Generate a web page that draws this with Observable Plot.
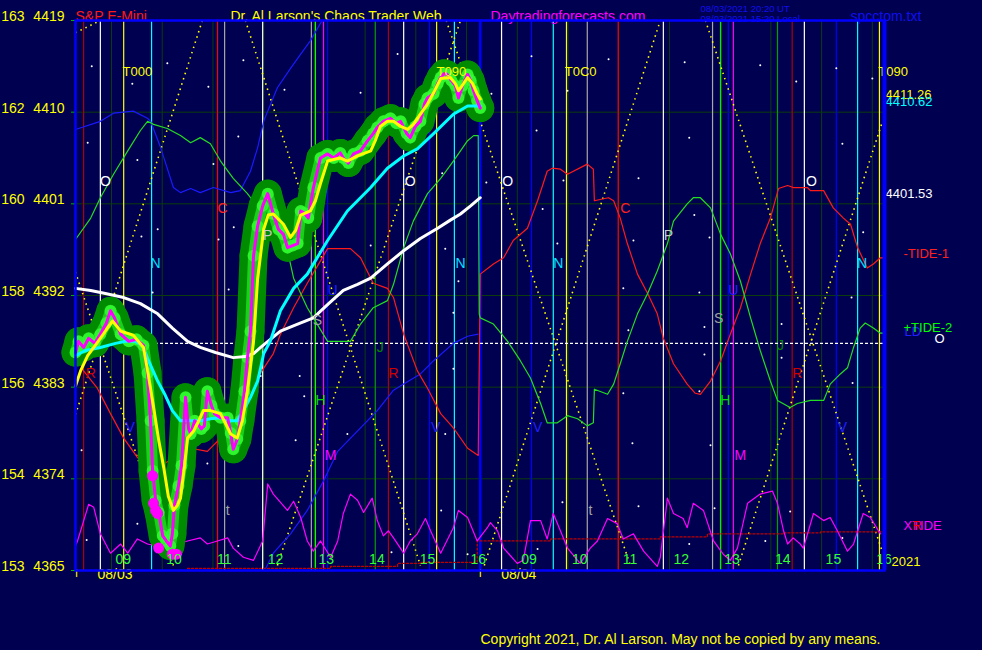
<!DOCTYPE html>
<html><head><meta charset="utf-8">
<script src="https://cdn.jsdelivr.net/npm/d3@7"></script>
<script src="https://cdn.jsdelivr.net/npm/@observablehq/plot@0.6"></script>
<style>
html,body{margin:0;padding:0;background:#000050;}
#chart svg{display:block}
</style></head><body><div id="chart"></div>
<script>
// ---- axes ----
const xDomain = [8.29, 24.24];            // session hours (day 2 09:00 = 17)
const yDomain = [4365, 4419];
const hourTicks = [9,10,11,12,13,14,15,16,17,18,19,20,21,22,23,24];
const hourLabels = ["09","10","11","12","13","14","15","16","09","10","11","12","13","14","15","16"];
const priceTicks = [4419,4410,4401,4392,4383,4374,4365];
const priceIndex = [163,162,160,158,156,154,153];
const dateTicks = [8.31, 16.27];
const dateLabels = ["08/03","08/04"];

// ---- price series ----
const price = [[8.29,4386.4],[8.35,4387.5],[8.45,4386.9],[8.55,4387.8],[8.67,4387.3],[8.78,4388.2],[8.90,4389.3],[8.98,4390.5],[9.06,4389.8],[9.18,4388.2],[9.34,4387.5],[9.49,4387.7],[9.63,4387.1],[9.71,4384.4],[9.77,4379.7],[9.81,4374.8],[9.87,4371.9],[9.93,4370.7],[10.01,4368.4],[10.08,4367.9],[10.16,4367.4],[10.20,4368.6],[10.24,4371.4],[10.32,4373.3],[10.38,4375.3],[10.46,4382.0],[10.52,4378.9],[10.56,4378.4],[10.64,4379.7],[10.70,4379.4],[10.77,4378.9],[10.83,4379.2],[10.89,4382.6],[10.97,4381.2],[11.03,4380.4],[11.15,4380.0],[11.29,4380.0],[11.35,4378.5],[11.40,4376.9],[11.48,4377.9],[11.54,4379.7],[11.62,4382.6],[11.68,4385.9],[11.74,4388.5],[11.80,4395.9],[11.88,4398.8],[11.98,4400.8],[12.08,4402.0],[12.19,4400.0],[12.29,4398.5],[12.39,4398.0],[12.47,4396.7],[12.57,4396.9],[12.67,4397.1],[12.73,4400.3],[12.80,4400.1],[12.88,4399.6],[12.98,4402.6],[13.12,4405.5],[13.26,4405.9],[13.38,4405.5],[13.51,4406.0],[13.57,4405.5],[13.67,4405.0],[13.77,4405.9],[13.91,4406.2],[14.05,4407.2],[14.16,4407.9],[14.24,4408.5],[14.36,4409.1],[14.50,4409.4],[14.62,4408.9],[14.70,4409.1],[14.82,4407.9],[14.89,4407.5],[14.99,4408.6],[15.09,4409.1],[15.17,4410.8],[15.23,4411.4],[15.35,4411.8],[15.43,4412.8],[15.49,4413.4],[15.56,4413.8],[15.62,4413.7],[15.70,4413.1],[15.78,4412.6],[15.84,4411.4],[15.92,4412.6],[16.02,4413.7],[16.08,4413.1],[16.14,4412.1],[16.21,4411.1],[16.27,4410.4]];
const smooth = [[8.29,4383.1],[8.39,4384.6],[8.53,4386.1],[8.68,4387.1],[8.84,4388.2],[9.02,4389.5],[9.18,4388.5],[9.43,4388.1],[9.63,4386.9],[9.73,4384.1],[9.83,4381.0],[9.93,4377.8],[10.03,4375.1],[10.12,4372.3],[10.22,4370.9],[10.30,4371.4],[10.36,4372.1],[10.44,4375.3],[10.50,4378.0],[10.62,4378.7],[10.72,4379.7],[10.81,4380.7],[10.95,4380.7],[11.15,4380.4],[11.35,4378.4],[11.48,4378.0],[11.58,4379.7],[11.68,4382.6],[11.80,4387.5],[11.88,4393.6],[12.00,4398.5],[12.09,4399.9],[12.19,4400.0],[12.39,4399.0],[12.53,4397.7],[12.63,4398.4],[12.73,4399.9],[12.92,4400.3],[13.02,4401.3],[13.12,4403.0],[13.26,4405.2],[13.42,4405.4],[13.51,4405.5],[13.65,4405.2],[13.85,4405.7],[14.11,4406.2],[14.20,4407.2],[14.30,4408.6],[14.44,4409.1],[14.56,4409.1],[14.70,4408.6],[14.84,4408.3],[14.95,4408.8],[15.09,4409.8],[15.23,4410.8],[15.35,4411.9],[15.49,4413.3],[15.68,4413.4],[15.78,4412.8],[15.84,4412.1],[15.94,4412.8],[16.02,4413.4],[16.12,4412.8],[16.21,4411.8],[16.27,4411.3]];
const avgFast = [[8.29,4386.1],[8.49,4386.6],[8.78,4386.9],[9.08,4387.3],[9.28,4387.5],[9.47,4387.5],[9.61,4387.1],[9.73,4385.6],[9.91,4383.6],[10.06,4382.2],[10.20,4380.7],[10.36,4379.7],[10.56,4379.7],[10.75,4379.7],[10.95,4379.9],[11.15,4380.0],[11.35,4379.7],[11.48,4379.7],[11.60,4380.7],[11.74,4382.0],[11.88,4383.6],[11.94,4384.9],[12.00,4386.3],[12.13,4387.5],[12.33,4390.5],[12.59,4392.7],[12.86,4394.1],[13.26,4397.4],[13.65,4400.3],[14.11,4402.6],[14.44,4404.5],[14.76,4405.7],[15.03,4406.4],[15.35,4407.9],[15.74,4409.8],[16.02,4410.6],[16.27,4410.6]];
const avgSlow = [[8.29,4392.7],[8.59,4392.5],[8.88,4392.2],[9.24,4391.8],[9.57,4391.2],[9.91,4390.2],[10.20,4388.8],[10.50,4387.5],[10.75,4386.9],[11.05,4386.4],[11.40,4385.9],[11.64,4386.0],[11.80,4386.3],[11.94,4386.9],[12.33,4388.5],[12.67,4389.2],[12.98,4389.8],[13.28,4391.2],[13.57,4392.5],[13.85,4393.1],[14.11,4393.7],[14.44,4395.1],[14.76,4396.4],[15.09,4397.6],[15.43,4398.6],[15.68,4399.4],[15.88,4400.0],[16.08,4400.8],[16.27,4401.6]];
const lowMarks = [[9.81,4374.3],[9.83,4371.6],[9.87,4370.9],[9.91,4370.6],[9.93,4367.2],[10.20,4366.6],[10.28,4366.6]];

// ---- tide / forecast lines ----
const tide1 = [[8.29,4386.6],[8.45,4384.6],[8.72,4382.9],[8.98,4380.4],[9.24,4378.0],[9.51,4376.1],[9.71,4375.0],[9.91,4375.0],[10.30,4376.4],[10.56,4377.0],[10.89,4376.7],[11.15,4378.0],[11.40,4380.0],[11.68,4382.0],[11.94,4384.4],[12.19,4386.3],[12.33,4388.2],[12.59,4390.8],[12.86,4393.2],[13.12,4395.4],[13.26,4396.6],[13.71,4396.6],[13.91,4395.7],[14.16,4393.2],[14.44,4392.7],[14.56,4391.8],[14.76,4388.2],[15.03,4384.6],[15.23,4382.9],[15.49,4380.4],[15.74,4379.0],[16.02,4377.0],[16.23,4376.3],[16.27,4394.1],[16.53,4395.1],[16.73,4395.7],[16.92,4397.4],[17.20,4398.6],[17.40,4401.3],[17.59,4404.2],[17.69,4404.5],[17.85,4404.4],[17.99,4403.9],[18.38,4404.9],[18.50,4404.4],[18.52,4401.3],[18.70,4401.5],[18.80,4401.6],[18.90,4401.3],[19.03,4399.6],[19.17,4397.1],[19.37,4394.1],[19.57,4392.2],[19.76,4390.2],[19.88,4387.8],[20.08,4385.3],[20.35,4383.3],[20.51,4382.4],[20.61,4382.3],[20.81,4383.6],[21.01,4385.6],[21.20,4388.2],[21.40,4390.8],[21.60,4394.1],[21.79,4397.1],[21.99,4399.6],[22.15,4402.5],[22.33,4402.8],[22.44,4402.6],[22.72,4402.6],[22.78,4402.3],[23.04,4402.3],[23.23,4400.6],[23.43,4399.6],[23.57,4399.0],[23.71,4396.7],[23.90,4394.7],[24.02,4395.1],[24.16,4395.7],[24.24,4395.7]];
const tide2 = [[8.29,4397.5],[8.59,4399.6],[8.78,4401.6],[9.04,4403.9],[9.32,4406.2],[9.57,4408.2],[9.71,4409.1],[9.83,4408.8],[10.10,4408.4],[10.36,4407.7],[10.56,4407.0],[10.75,4407.5],[10.95,4406.9],[11.15,4405.2],[11.40,4403.5],[11.68,4402.0],[11.94,4400.3],[12.27,4398.3],[12.47,4396.4],[12.59,4393.7],[12.86,4390.8],[12.98,4389.8],[13.26,4387.5],[13.71,4387.5],[13.91,4389.2],[14.16,4390.8],[14.44,4391.5],[14.56,4393.1],[14.76,4396.7],[14.95,4399.3],[15.23,4402.0],[15.49,4403.5],[15.74,4405.2],[16.02,4407.2],[16.14,4407.7],[16.23,4407.7],[16.25,4390.2],[16.27,4389.8],[16.53,4389.2],[16.81,4387.5],[17.06,4385.6],[17.26,4383.9],[17.46,4381.4],[17.59,4379.5],[17.79,4379.5],[17.99,4380.2],[18.19,4379.9],[18.38,4379.2],[18.50,4379.5],[18.52,4382.8],[18.78,4382.3],[18.90,4383.3],[19.03,4385.3],[19.17,4387.5],[19.37,4390.2],[19.57,4392.2],[19.76,4394.4],[19.96,4397.1],[20.08,4399.3],[20.35,4401.0],[20.47,4401.6],[20.61,4401.6],[20.81,4400.6],[21.01,4398.0],[21.20,4396.1],[21.40,4393.4],[21.60,4389.8],[21.79,4386.6],[21.99,4383.6],[22.13,4381.7],[22.38,4381.0],[22.52,4381.4],[22.78,4381.7],[23.04,4381.7],[23.17,4383.3],[23.37,4384.3],[23.51,4384.9],[23.63,4386.9],[23.76,4388.8],[23.86,4389.3],[24.02,4388.8],[24.16,4388.3],[24.24,4388.3]];
const blueA = [[8.29,4408.3],[8.78,4409.1],[9.04,4409.9],[9.43,4410.1],[9.71,4409.4],[9.77,4409.1],[9.97,4406.5],[10.22,4402.6],[10.36,4402.1],[10.56,4402.5],[10.75,4402.1],[11.01,4402.6],[11.35,4402.1],[11.54,4402.3],[11.74,4404.2],[11.88,4406.5],[12.00,4409.1],[12.08,4410.1],[12.27,4412.4],[12.53,4414.3],[12.73,4415.7],[12.92,4417.0],[13.14,4418.9]];
const blueB = [[12.04,4365.2],[12.19,4366.7],[12.53,4368.6],[12.86,4370.9],[13.18,4373.8],[13.46,4376.7],[13.91,4379.0],[14.24,4380.7],[14.56,4382.7],[14.76,4383.3],[15.09,4384.3],[15.35,4385.6],[15.74,4387.3],[16.02,4388.0],[16.23,4388.2]];
const xtide = [[8.29,4367.4],[8.33,4367.9],[8.55,4371.5],[8.65,4371.2],[8.78,4368.6],[8.98,4366.7],[9.18,4367.6],[9.32,4366.7],[9.51,4368.1],[9.71,4367.6],[9.91,4367.4],[10.10,4367.9],[10.30,4367.6],[10.50,4367.9],[10.75,4368.2],[10.89,4367.6],[11.09,4367.9],[11.29,4368.2],[11.40,4367.2],[11.60,4366.3],[11.80,4366.0],[11.98,4367.9],[12.08,4373.5],[12.19,4372.5],[12.47,4370.9],[12.59,4371.8],[12.73,4370.2],[12.86,4367.9],[12.98,4366.9],[13.12,4367.9],[13.32,4366.3],[13.46,4367.9],[13.57,4370.6],[13.71,4372.5],[13.85,4371.9],[13.97,4370.7],[14.14,4372.1],[14.24,4369.9],[14.36,4368.4],[14.46,4368.9],[14.56,4368.2],[14.76,4366.7],[14.89,4367.9],[15.03,4368.6],[15.19,4370.1],[15.29,4368.9],[15.49,4366.7],[15.74,4369.2],[15.84,4370.9],[16.02,4370.2],[16.21,4367.9],[16.41,4369.2],[16.47,4369.7],[16.61,4368.9],[16.73,4367.2],[17.00,4365.7],[17.12,4366.0],[17.26,4369.9],[17.46,4369.9],[17.59,4368.1],[17.71,4370.6],[17.85,4368.9],[17.99,4367.2],[18.24,4365.7],[18.44,4367.2],[18.58,4367.9],[18.78,4370.1],[18.97,4369.6],[19.09,4368.1],[19.29,4368.6],[19.49,4366.9],[19.76,4365.4],[19.82,4366.3],[19.96,4372.1],[20.08,4370.6],[20.27,4370.1],[20.35,4369.2],[20.47,4371.6],[20.67,4370.9],[20.87,4367.9],[21.06,4366.6],[21.20,4366.0],[21.34,4367.2],[21.54,4371.6],[21.79,4372.5],[22.03,4372.8],[22.13,4371.6],[22.25,4368.9],[22.33,4367.6],[22.44,4368.2],[22.58,4367.6],[22.64,4367.2],[22.84,4370.6],[23.04,4369.9],[23.17,4370.2],[23.31,4368.9],[23.51,4366.9],[23.63,4367.6],[23.82,4370.6],[23.96,4370.2],[24.16,4368.6]];
const baseTide = [[10.50,4365.2],[13.32,4365.4],[14.64,4365.7],[15.09,4365.8],[16.20,4365.8],[16.21,4367.9],[17.66,4368.1],[19.82,4368.3],[20.75,4368.6],[22.25,4368.7],[22.98,4368.8],[24.24,4368.9]];
const zeroLevel = [4387.3];

// ---- event lines (times) ----
const eventLines = [
  {color:"#b00000", times:[8.45,14.46,22.42]},
  {color:"#ffffff", times:[8.78,11.98,14.76,16.69,19.88,22.66]},
  {color:"#ffff00", times:[9.24,15.41,17.97,24.14]},
  {color:"#00ffff", times:[9.79,15.76,17.71,23.71]},
  {color:"#ff0000", times:[11.09,18.99]},
  {color:"#a8a8a8", times:[11.23,12.94,18.38,20.85]},
  {color:"#00ff00", times:[13.02,21.01]},
  {color:"#ff00ff", times:[13.18,21.26]},
  {color:"#0000ff", times:[13.26,15.27,17.28,21.16,23.29]},
  {color:"#00a000", times:[14.20,22.13]}
];
const nowTime = [16.27];

// ---- yellow dotted angle lines [t1,p1,t2,p2] ----
const angleLines = [[8.29,4417.8,8.78,4419.0],[10.79,4419.0,8.29,4380.3],[11.64,4419.0,15.09,4365.5],[12.27,4365.5,15.88,4419.0],[15.60,4419.0,19.23,4365.5],[16.35,4365.5,19.82,4419.0],[20.71,4419.0,24.20,4366.8],[21.36,4365.5,24.20,4409.1],[8.29,4394.3,10.22,4365.5]];

// ---- scattered points ----
const stars = [[8.61,4414.5],[9.41,4412.8],[10.10,4414.8],[10.91,4412.5],[11.60,4415.1],[12.41,4412.2],[14.64,4415.7],[13.91,4411.9],[17.28,4415.5],[18.80,4415.2],[17.99,4412.1],[16.49,4411.8],[20.30,4414.9],[21.79,4414.6],[22.50,4413.0],[23.29,4414.3],[24.00,4413.3],[8.53,4407.0],[9.51,4405.3],[11.50,4407.6],[11.01,4404.9],[11.41,4398.7],[11.11,4397.5],[11.31,4392.6],[9.91,4398.5],[9.59,4397.8],[9.81,4392.3],[15.52,4404.0],[16.39,4403.1],[17.38,4408.2],[17.79,4397.1],[15.58,4396.6],[15.74,4390.3],[15.74,4384.8],[15.84,4393.4],[14.11,4396.9],[12.71,4384.1],[12.80,4382.1],[13.65,4378.4],[15.58,4378.4],[20.39,4407.5],[19.39,4403.5],[19.29,4397.4],[19.09,4392.7],[19.19,4388.6],[19.09,4382.4],[19.27,4377.5],[20.49,4399.9],[20.79,4397.7],[20.59,4392.3],[20.69,4388.9],[20.69,4386.2],[20.59,4382.6],[20.81,4377.3],[22.21,4389.2],[22.21,4385.9],[23.41,4406.9],[23.82,4398.2],[23.61,4383.4],[17.50,4400.5],[17.91,4403.3],[8.51,4368.0],[8.41,4376.8],[9.51,4369.6],[11.50,4367.4],[11.94,4384.1],[12.63,4377.8],[10.89,4375.5],[14.52,4366.8],[15.50,4370.9],[16.02,4366.6],[17.40,4367.1],[17.89,4371.7],[19.39,4371.3],[20.39,4367.6],[20.89,4371.1],[21.89,4367.9],[22.38,4370.8],[23.41,4368.2],[23.59,4391.8]];

// ---- letter marks ----
const letterMarks = [
  {text:"O", color:"#ffffff", pts:[[8.88,4403.2],[14.89,4403.2],[16.81,4403.2],[22.80,4403.2]]},
  {text:"N", color:"#00e0ff", pts:[[9.87,4395.1],[15.88,4395.1],[17.81,4395.1],[23.80,4395.1]]},
  {text:"C", color:"#ff2020", pts:[[11.19,4400.5],[19.13,4400.5]]},
  {text:"P", color:"#c8c8c8", pts:[[12.08,4397.9],[19.98,4397.9]]},
  {text:"S", color:"#a0a0a0", pts:[[13.06,4389.5],[20.97,4389.7]]},
  {text:"U", color:"#2020ff", pts:[[13.36,4392.5],[21.26,4392.5]]},
  {text:"J", color:"#008800", pts:[[14.30,4386.9],[22.19,4387.1]]},
  {text:"R", color:"#d00000", pts:[[8.59,4384.3],[14.56,4384.3],[22.52,4384.3]]},
  {text:"H", color:"#00dd00", pts:[[13.12,4381.7],[21.10,4381.7]]},
  {text:"V", color:"#2020ff", pts:[[9.37,4379.0],[15.39,4379.0],[17.40,4379.0],[23.41,4379.0]]},
  {text:"M", color:"#ff00ff", pts:[[13.32,4376.3],[21.40,4376.3]]},
  {text:"t", color:"#a0a0a0", pts:[[11.29,4370.9],[18.44,4370.9]]}
];
const harmonicLabels = [[9.51,4414.0,"T000"],[15.70,4414.0,"T090"],[18.25,4414.0,"T0C0"],[24.41,4414.0,"T090"]];

// ---- right side labels ----
const endLabels = [
  {v:4411.26, text:"4411.26", color:"#ffff00"},
  {v:4410.62, text:"4410.62", color:"#00ffff"},
  {v:4401.53, text:"4401.53", color:"#ffffff"}
];
const legendLabels = [
  {v:4396.1, text:"-TIDE-1", color:"#ff2020", dx:19},
  {v:4388.4, text:"LD", color:"#2020ff", dx:20},
  {v:4388.8, text:"+TIDE-2", color:"#00ff00", dx:19},
  {v:4387.7, text:"O", color:"#ffffff", dx:50},
  {v:4369.4, text:"XTIDE", color:"#ff00ff", dx:19},
  {v:4369.4, text:"R", color:"#ff0000", dx:28},
  {v:4365.9, text:"2021", color:"#ffff00", dx:7}
];

const X = d => d[0], Y = d => d[1];
const font = "Liberation Sans, Arial, sans-serif";

const marks = [
  Plot.ruleX(hourTicks, {stroke:"#0c3c0c"}),
  Plot.ruleY(priceTicks, {stroke:"#0c3c0c"}),
  ...eventLines.map(g => Plot.ruleX(g.times, {stroke:g.color, strokeWidth:1.2})),
  Plot.ruleX(nowTime, {stroke:"#0000ff", strokeWidth:2.5}),
  Plot.link(angleLines, {x1:d=>d[0], y1:d=>d[1], x2:d=>d[2], y2:d=>d[3], stroke:"#ffff00", strokeWidth:1.6, strokeDasharray:"1.5,4", clip:true}),
  Plot.ruleY(zeroLevel, {stroke:"#ffffff", strokeWidth:1.3, strokeDasharray:"3,2"}),
  Plot.dot(stars, {x:X, y:Y, r:1, fill:"#ffffff", stroke:null}),
  Plot.line(baseTide, {x:X, y:Y, stroke:"#c00000", strokeWidth:1.3, strokeDasharray:"2,2", curve:"step-after"}),
  Plot.line(blueA, {x:X, y:Y, stroke:"#1a1aff", strokeWidth:1.2, clip:true}),
  Plot.line(blueB, {x:X, y:Y, stroke:"#1a1aff", strokeWidth:1.2, clip:true}),
  Plot.line(tide1, {x:X, y:Y, stroke:"#ff1a1a", strokeWidth:1.2}),
  Plot.line(tide2, {x:X, y:Y, stroke:"#22dd22", strokeWidth:1.2}),
  Plot.line(xtide, {x:X, y:Y, stroke:"#ff00ff", strokeWidth:1.2}),
  // price range band
  Plot.line(price, {x:X, y:Y, stroke:"#008c00", strokeWidth:28, strokeLinecap:"round", strokeLinejoin:"round"}),
  Plot.dot(price, {x:X, y:Y, r:14, fill:"#008c00", stroke:null}),
  Plot.line(price, {x:X, y:Y, stroke:"#22ee22", strokeWidth:11, strokeOpacity:0.7, strokeLinecap:"round", strokeLinejoin:"round"}),
  Plot.dot(price, {x:X, y:Y, r:6, fill:"#33ff33", stroke:null, fillOpacity:0.8}),
  Plot.line(avgSlow, {x:X, y:Y, stroke:"#ffffff", strokeWidth:3}),
  Plot.line(avgFast, {x:X, y:Y, stroke:"#00ffff", strokeWidth:3}),
  Plot.line(price, {x:X, y:Y, stroke:"#ff00ff", strokeWidth:3}),
  Plot.line(smooth, {x:X, y:Y, stroke:"#ffff00", strokeWidth:3}),
  Plot.dot(lowMarks, {x:X, y:Y, r:5.5, fill:"#ff00ff", stroke:null}),
  ...letterMarks.map(g => Plot.text(g.pts, {x:X, y:Y, text:()=>g.text, fill:g.color, fontSize:14})),
  Plot.text(harmonicLabels, {x:X, y:Y, text:d=>d[2], fill:"#ffff00", fontSize:13, clip:false}),
  // left axis
  Plot.axisY(priceTicks, {anchor:"left", tickSize:4, stroke:"#00b000", tickFormat:()=>"", label:null}),
  Plot.text(priceTicks, {y:d=>d, text:d=>String(d), frameAnchor:"left", dx:-11, dy:-4, textAnchor:"end", fill:"#ffff00", fontSize:14}),
  Plot.text(priceTicks, {y:d=>d, text:(d,i)=>String(priceIndex[i]), frameAnchor:"left", dx:-51, dy:-4, textAnchor:"end", fill:"#ffff00", fontSize:14}),
  // hour labels
  Plot.text(hourTicks, {x:d=>d, text:(d,i)=>hourLabels[i], frameAnchor:"bottom", dx:4, dy:-7, textAnchor:"start", fill:"#33ff33", fontSize:14}),
  Plot.text(dateTicks, {x:d=>d, text:()=>"I", frameAnchor:"bottom", dy:6, fill:"#ffff00", fontSize:11}),
  Plot.text(dateTicks, {x:d=>d, text:(d,i)=>dateLabels[i], frameAnchor:"bottom", dx:21, dy:8, textAnchor:"start", fill:"#ffff00", fontSize:14}),
  // right labels
  Plot.text(endLabels, {y:"v", text:"text", fill:d=>d.color, frameAnchor:"right", dx:1, textAnchor:"start", lineAnchor:"bottom", fontSize:13}),
  ...legendLabels.map(d => Plot.text([d], {y:"v", text:"text", fill:d.color, frameAnchor:"right", dx:d.dx, textAnchor:"start", fontSize:13})),
  // titles
  Plot.text(["S&P E-Mini"], {frameAnchor:"top-left", dy:-9, textAnchor:"start", fill:"#ff1a1a", fontSize:14}),
  Plot.text(["Dr. Al Larson's Chaos Trader Web"], {frameAnchor:"top-left", dx:155, dy:-9, textAnchor:"start", fill:"#ffff00", fontSize:14}),
  Plot.text(["Daytradingforecasts.com"], {frameAnchor:"top-left", dx:415, dy:-9, textAnchor:"start", fill:"#ff00ff", fontSize:14}),
  Plot.text(["08/03/2021 20:20 UT"], {frameAnchor:"top-left", dx:625, dy:-15, textAnchor:"start", fill:"#1010ee", fontSize:9.5}),
  Plot.text(["08/03/2021 15:20 Local"], {frameAnchor:"top-left", dx:625, dy:-5, textAnchor:"start", fill:"#1010ee", fontSize:9.5}),
  Plot.text(["spcctom.txt"], {frameAnchor:"top-left", dx:775, dy:-9, textAnchor:"start", fill:"#1010ee", fontSize:14}),
  Plot.text(["Copyright 2021, Dr. Al Larson. May not be copied by any means."], {frameAnchor:"bottom-left", dx:405, dy:73, textAnchor:"start", fill:"#ffff00", fontSize:14}),
  Plot.frame({stroke:"#0000ff", strokeWidth:2.5}),
  Plot.ruleX([xDomain[1]], {stroke:"#0000ff", strokeWidth:4})
];

const chart = Plot.plot({
  width: 982, height: 650,
  marginLeft: 75, marginRight: 98, marginTop: 20, marginBottom: 80,
  style: {background:"#000050", fontFamily: font, overflow:"visible"},
  x: {domain: xDomain, axis: null},
  y: {domain: yDomain, axis: null},
  marks
});
document.getElementById("chart").appendChild(chart);
</script></body></html>
